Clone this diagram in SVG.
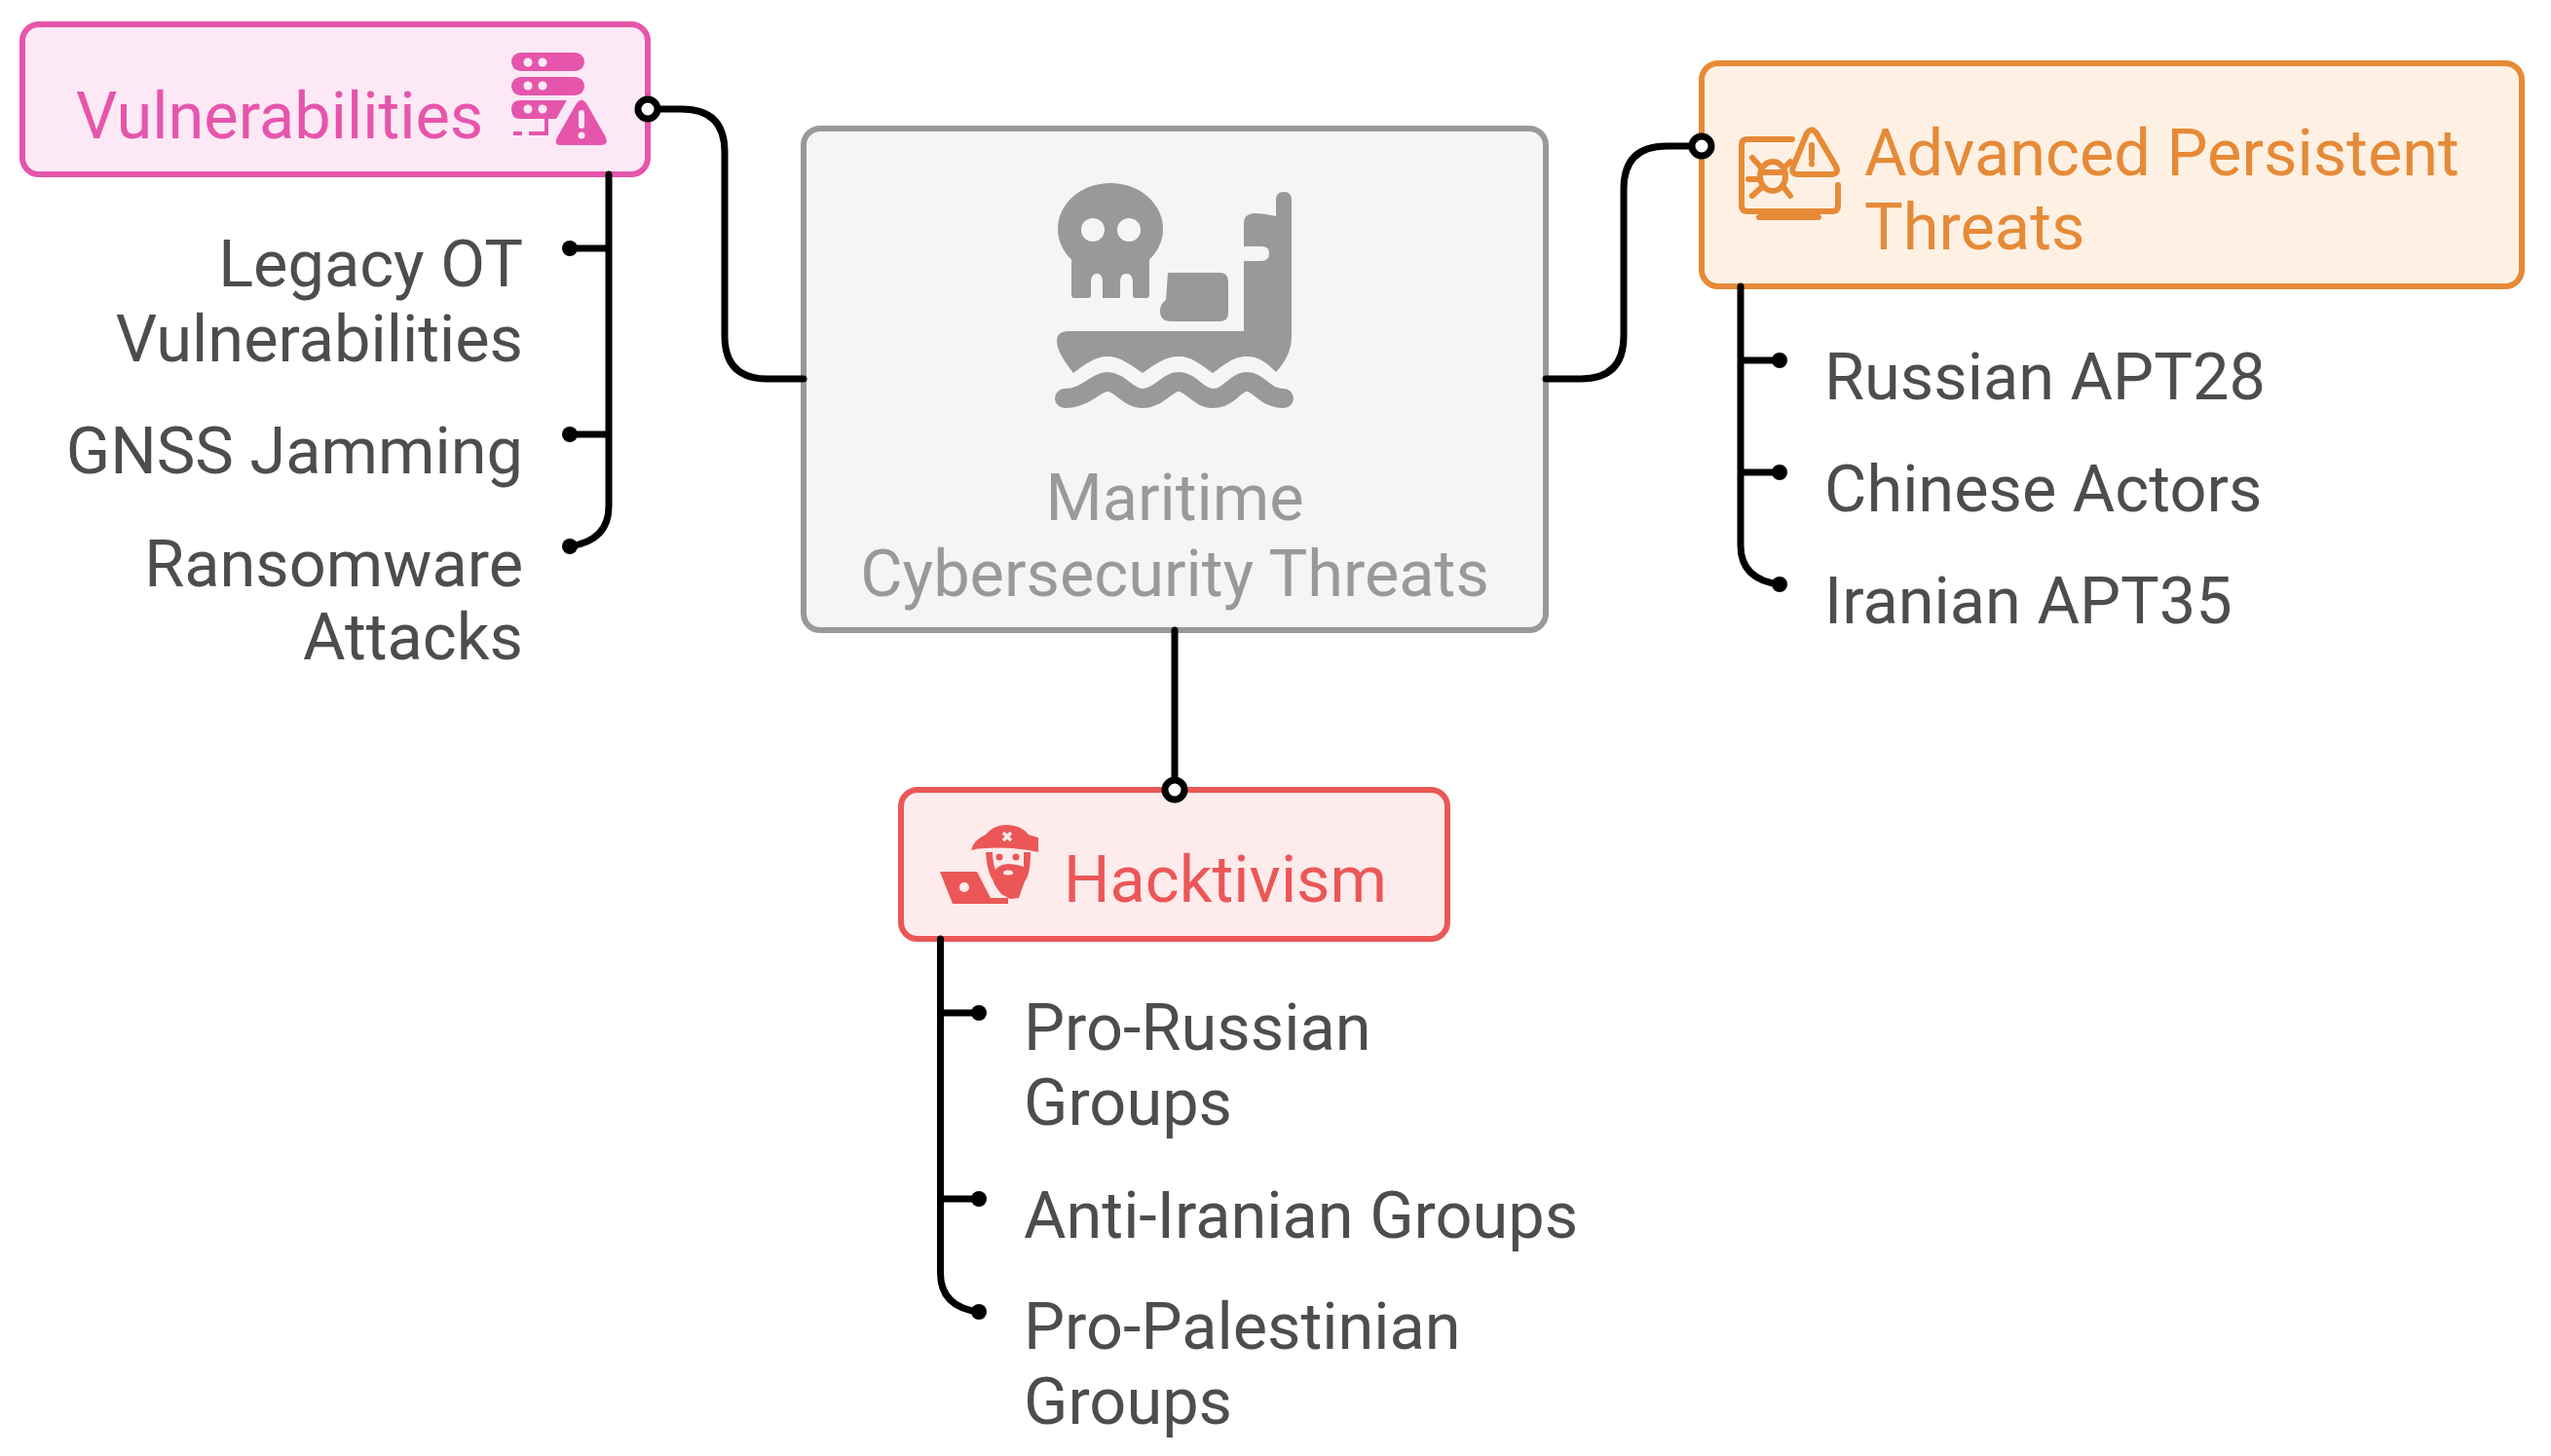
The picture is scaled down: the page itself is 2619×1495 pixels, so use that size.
<svg xmlns="http://www.w3.org/2000/svg" width="2619" height="1495" viewBox="0 0 2619 1495">
<style>
text{font-family:Roboto,"Liberation Sans",sans-serif;font-size:66.7px}
.lbl{fill:#4d4d4d}
.end{text-anchor:end}
.mid{text-anchor:middle}
.box{stroke-width:6}
.conn{fill:none;stroke:#000;stroke-width:7;stroke-linecap:round}
.dot{fill:#000}
.ring{fill:#fff;stroke:#000;stroke-width:7}
</style>
<rect width="2619" height="1495" fill="#fff"/>
<g id="node-center">
<rect class="box" x="825" y="132" width="762" height="515" rx="17" fill="#f5f5f5" stroke="#999"/>
<g fill="#999">
<ellipse cx="1140" cy="235" rx="54" ry="47"/>
<path d="M1100 262H1180V303Q1180 306 1177 306H1166Q1163 306 1163 303V290Q1163 281 1156 281Q1150 281 1150 290V306H1132V290Q1132 281 1126 281Q1120 281 1120 290V303Q1120 306 1117 306H1103Q1100 306 1100 303Z"/>
<path d="M1199 280H1252Q1261 280 1261 289V321Q1261 330 1252 330H1202Q1191 330 1191 319Q1191 312 1197 308Z"/>
<path d="M1097 340H1277V268H1295Q1303 268 1303 260Q1303 253 1295 253H1277V229Q1277 220 1287 219Q1297 219 1310 222V205Q1310 197 1318 197Q1326 197 1326 205V345Q1326 365 1310 382C1300 372 1292 366 1280 366C1266 366 1258 374 1245 383C1232 374 1224 366 1210 366C1196 366 1186 374 1173 383C1160 374 1150 366 1137 366C1124 366 1114 374 1102 383Q1085 362 1085 350Q1085 340 1097 340Z"/>
<path d="M1093 409C1115 409 1125 392 1137 392C1150 392 1158 409 1173 409C1190 409 1198 392 1210 392C1223 392 1230 409 1245 409C1262 409 1268 392 1280 392C1293 392 1298 409 1318 409" fill="none" stroke="#999" stroke-width="20" stroke-linecap="round" stroke-linejoin="round"/>
</g>
<circle cx="1122" cy="236" r="12" fill="#f5f5f5"/><circle cx="1159" cy="236" r="12" fill="#f5f5f5"/>
<text class="mid" x="1206" y="534" fill="#999">Maritime</text>
<text class="mid" x="1206" y="612" fill="#999">Cybersecurity Threats</text>
</g>
<g id="node-vulnerabilities">
<rect class="box" x="23" y="25" width="642" height="154" rx="17" fill="#fde9f5" stroke="#e655ac"/>
<g fill="#e655ac">
<rect x="525" y="54" width="75" height="19" rx="9.500"/>
<rect x="525" y="79" width="75" height="19" rx="9.500"/>
<path d="M534 103H582L571 122H534Q525 122 525 112Q525 103 534 103Z"/>
<path d="M559 122H563V139H543V135H559Z"/>
<rect x="527" y="135" width="9" height="4"/>
<path d="M592 106Q597 99 602 106L622 141Q625 149 617 149H576Q568 149 572 141Z"/>
</g>
<g fill="#fde9f5">
<circle cx="542" cy="64" r="4.500"/><circle cx="557" cy="64" r="4.500"/>
<circle cx="542" cy="88" r="4.500"/><circle cx="557" cy="88" r="4.500"/>
<circle cx="542" cy="112" r="4.500"/><circle cx="557" cy="112" r="4.500"/>
<rect x="594" y="113" width="6" height="19" rx="3"/><circle cx="597" cy="139" r="3.500"/>
</g>
<text x="78" y="142" fill="#e655ac">Vulnerabilities</text>
</g>
<g id="node-apt">
<rect class="box" x="1747" y="65" width="842" height="229" rx="17" fill="#fef1e4" stroke="#e68a37"/>
<g fill="none" stroke="#e68a37" stroke-width="6" stroke-linecap="round" stroke-linejoin="round">
<path d="M1840 143H1794Q1788 143 1788 149V211Q1788 217 1794 217H1881Q1887 217 1887 211V190"/>
<path d="M1806 223H1867"/>
<path d="M1855 137Q1860 130 1865 137L1885 171Q1888 179 1880 179H1846Q1838 179 1841 171Z"/>
<path d="M1860 149V163M1860 168V168.500"/>
<ellipse cx="1820" cy="181" rx="13" ry="15"/>
<path d="M1808 177H1832M1808 172L1799 162M1832 172L1838 166M1807 184H1795M1809 192L1799 201M1831 192L1838 201"/>
</g>
<text x="1914" y="180" fill="#e68a37">Advanced Persistent</text>
<text x="1914" y="256" fill="#e68a37">Threats</text>
</g>
<g id="node-hacktivism">
<rect class="box" x="925" y="811" width="561" height="153" rx="17" fill="#feebeb" stroke="#eb5757"/>
<g fill="#eb5757">
<path d="M965 895H1003L1017 922H1035V928H978Z"/>
<path d="M997 873Q1000 862 1012 857Q1020 847 1034 847Q1048 847 1056 857L1066 860V875Q1040 869 1012 871Q1003 871 997 873Z"/>
<path d="M1012 875H1058Q1058 898 1052 905L1046 922L1037 923L1028 918Q1020 908 1020 905Q1013 895 1012 875Z"/>
</g>
<path d="M1019 875H1051V890Q1046 888 1035 887Q1025 888 1022 893Q1019 885 1019 875Z" fill="#feebeb"/>
<circle cx="990" cy="911" r="5" fill="#feebeb"/>
<path d="M1030 855L1038 863M1038 855L1030 863" stroke="#feebeb" stroke-width="3.500"/>
<circle cx="1026" cy="880" r="3.500" fill="#eb5757"/><circle cx="1043" cy="880" r="3.500" fill="#eb5757"/>
<ellipse cx="1035" cy="896" rx="5" ry="2.500" fill="#feebeb"/>
<text x="1092" y="926" fill="#eb5757">Hacktivism</text>
</g>
<g id="connectors">
<path class="conn" d="M665 112H700Q744 112 744 156V345Q744 389 788 389H825"/>
<path class="conn" d="M1587 389H1623Q1667 389 1667 345V194Q1667 150 1711 150H1747"/>
<path class="conn" d="M1206 647V811"/>
<path class="conn" d="M625 179V520Q625 555 585 561M625 255H585M625 446H585"/>
<path class="conn" d="M1787 294V560Q1787 595 1827 600M1787 370H1827M1787 485H1827"/>
<path class="conn" d="M965.500 964V1307Q965.500 1342 1005 1347M965.500 1040H1005M965.500 1231H1005"/>
<circle class="ring" cx="665" cy="112" r="10"/>
<circle class="ring" cx="1747" cy="150" r="10"/>
<circle class="ring" cx="1206" cy="811" r="10"/>
<circle class="dot" cx="585" cy="255" r="8"/><circle class="dot" cx="585" cy="446" r="8"/><circle class="dot" cx="585" cy="561" r="8"/>
<circle class="dot" cx="1827" cy="370" r="8"/><circle class="dot" cx="1827" cy="485" r="8"/><circle class="dot" cx="1827" cy="600" r="8"/>
<circle class="dot" cx="1005" cy="1040" r="8"/><circle class="dot" cx="1005" cy="1231" r="8"/><circle class="dot" cx="1005" cy="1347" r="8"/>
</g>
<g id="labels-vulnerabilities" class="lbl">
<text class="end" x="537" y="294">Legacy OT</text>
<text class="end" x="537" y="371">Vulnerabilities</text>
<text class="end" x="537" y="486">GNSS Jamming</text>
<text class="end" x="537" y="602">Ransomware</text>
<text class="end" x="537" y="677">Attacks</text>
</g>
<g id="labels-apt" class="lbl">
<text x="1873" y="410">Russian APT28</text>
<text x="1873" y="525">Chinese Actors</text>
<text x="1873" y="640">Iranian APT35</text>
</g>
<g id="labels-hacktivism" class="lbl">
<text x="1051" y="1078">Pro-Russian</text>
<text x="1051" y="1155">Groups</text>
<text x="1051" y="1271">Anti-Iranian Groups</text>
<text x="1051" y="1385">Pro-Palestinian</text>
<text x="1051" y="1462">Groups</text>
</g>
</svg>
